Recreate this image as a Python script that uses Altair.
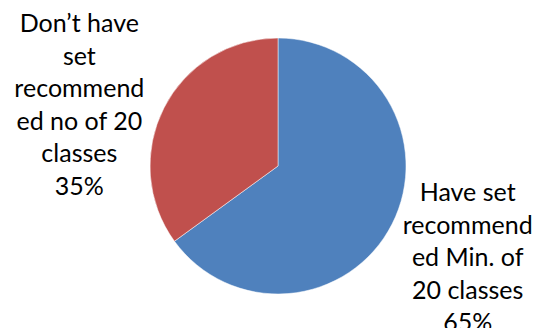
import altair as alt
import pandas as pd

categories = ["Have set recommended Min. of 20 classes", "Don’t have set recommended no of 20 classes"]
values = [65, 35]
labels = ["Have set\nrecommend\ned Min. of\n20 classes\n65%",
          "Don’t have\nset\nrecommend\ned no of 20\nclasses\n35%"]
colors = ["#4F81BD", "#C0504D"]

df = pd.DataFrame({"category": categories, "value": values, "label": labels, "idx": [0, 1]})

base = alt.Chart(df).transform_window(
    cum="sum(value)", sort=[alt.SortField("idx")]
).transform_calculate(
    start="datum.cum - datum.value", mid="datum.cum - datum.value/2"
)

theta_scale = alt.Scale(domain=[0, 100])

arcs = base.mark_arc(radius=128, stroke="white", strokeWidth=0.5).encode(
    theta=alt.Theta("start:Q", scale=theta_scale),
    theta2="cum:Q",
    color=alt.Color("category:N", scale=alt.Scale(domain=categories, range=colors), legend=None),
)

font = "Lato"
fs = 25
right = base.transform_filter("datum.idx == 0").mark_text(
    radius=205, dx=7, dy=-66, font=font, fontSize=fs, lineBreak="\n", lineHeight=32.6,
    align="center", baseline="middle", color="black"
).encode(theta=alt.Theta("mid:Q", scale=theta_scale), text="label:N")

left = base.transform_filter("datum.idx == 1").mark_text(
    radius=205, dx=-16, dy=-49, font=font, fontSize=fs, lineBreak="\n", lineHeight=32.6,
    align="center", baseline="middle", color="black"
).encode(theta=alt.Theta("mid:Q", scale=theta_scale), text="label:N")

chart = alt.layer(arcs, right, left).properties(
    width=520, height=324,
    padding={"left": 18, "top": 4, "right": 0, "bottom": 0},
    autosize=alt.AutoSizeParams(type="none"),
).configure_view(stroke=None).configure(background="white")

chart.save("out.html", embed_options={"renderer": "svg", "actions": False})
